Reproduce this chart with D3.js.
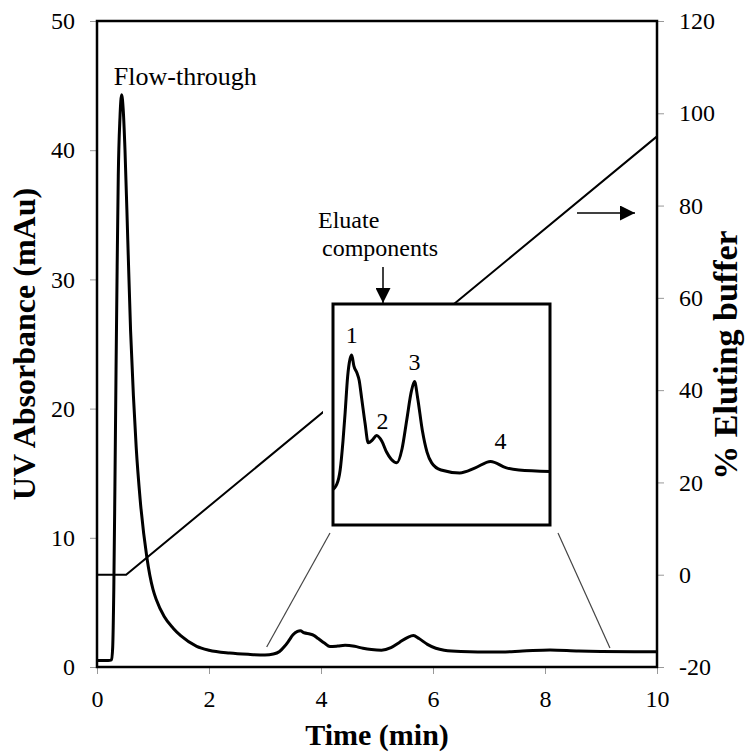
<!DOCTYPE html>
<html>

<head>
    <meta charset="utf-8">
    <title>chromatogram</title>
    <script src="https://d3js.org/d3.v7.min.js"></script>
    <style>
        body { margin: 0; background: #fff; }
        text { font-family: "Liberation Serif", "Times New Roman", serif; fill: #000; }
    </style>
</head>

<body>
    <svg width="745" height="755" id="mainsvg"></svg>
    <script>
        // UV trace (min, mAu)
        const time = [0, 0.1, 0.2, 0.26, 0.28, 0.3, 0.32, 0.34, 0.36, 0.38, 0.41, 0.44, 0.47, 0.5, 0.55, 0.6, 0.65, 0.7, 0.77, 0.89, 1.0, 1.06,
            1.2, 1.36, 1.5, 1.78, 2.0, 2.37, 2.7, 3.0, 3.15, 3.26, 3.35, 3.42, 3.5, 3.58, 3.63, 3.7, 3.8, 3.87, 3.95, 4.06, 4.16, 4.3, 4.43,
            4.6, 4.75, 4.9, 5.08, 5.25, 5.4, 5.55, 5.65, 5.75, 5.9, 6.05, 6.2, 6.5, 7.1, 7.6, 8.09, 8.6, 9.0, 10];
        const absorbance = [0.5, 0.5, 0.5, 0.55, 1.5, 6, 14, 23, 31, 38, 42.5, 44.3, 43, 40, 33, 26, 21, 17, 13, 8.5, 6, 5.2,
            3.9, 3.0, 2.4, 1.6, 1.3, 1.08, 0.98, 0.93, 1.0, 1.2, 1.6, 2.0, 2.5, 2.75, 2.8, 2.65, 2.55, 2.45, 2.2, 1.85, 1.58, 1.62, 1.68,
            1.6, 1.45, 1.35, 1.3, 1.5, 1.9, 2.3, 2.43, 2.2, 1.75, 1.45, 1.3, 1.2, 1.16, 1.23, 1.32, 1.23, 1.2, 1.18];
        // gradient (min, % eluting buffer)
        const gradTime = [0, 0.52, 10];
        const gradPct = [0, 0, 95];
        // ticks
        const xTicks = [0, 2, 4, 6, 8, 10];
        const yTicks = [0, 10, 20, 30, 40, 50];
        const y2Ticks = [-20, 0, 20, 40, 60, 80, 100, 120];
        const peakLabels = [{ t: 3.63, v: 2.8, name: '1' }, { t: 4.43, v: 1.68, name: '2' }, { t: 5.65, v: 2.43, name: '3' }, { t: 8.09, v: 1.32, name: '4' }];

        const svg = d3.select('#mainsvg');
        const margin = { top: 21, right: 88, bottom: 88, left: 97 };
        const width = 745 - margin.left - margin.right;
        const height = 755 - margin.top - margin.bottom;
        const g = svg.append('g').attr('transform', `translate(${margin.left},${margin.top})`);

        const x = d3.scaleLinear().domain([0, 10]).range([0, width]);
        const y = d3.scaleLinear().domain([0, 50]).range([height, 0]);
        const y2 = d3.scaleLinear().domain([-20, 120]).range([height, 0]);

        const trace = time.map((t, i) => ({ t: t, v: absorbance[i] }));
        const grad = gradTime.map((t, i) => ({ t: t, p: gradPct[i] }));

        // axes
        const styleAxis = sel => {
            sel.select('.domain').remove();
            sel.selectAll('.tick line').attr('stroke', '#999');
            sel.selectAll('.tick text').style('font-size', '24px');
        };
        g.append('g').attr('transform', `translate(0,${height})`)
            .call(d3.axisBottom(x).tickValues(xTicks).tickSize(7).tickPadding(16))
            .call(styleAxis);
        g.append('g')
            .call(d3.axisLeft(y).tickValues(yTicks).tickSize(7).tickPadding(15))
            .call(styleAxis);
        g.append('g').attr('transform', `translate(${width},0)`)
            .call(d3.axisRight(y2).tickValues(y2Ticks).tickSize(7).tickPadding(15).tickFormat(d => String(d)))
            .call(styleAxis);

        // frame
        g.append('rect').attr('width', width).attr('height', height)
            .attr('fill', 'none').attr('stroke', '#000').attr('stroke-width', 2.5);

        const line = d3.line().x(d => x(d.t)).y(d => y(d.v)).curve(d3.curveMonotoneX);
        g.append('path').datum(trace)
            .attr('d', line)
            .attr('fill', 'none').attr('stroke', '#000').attr('stroke-width', 3);

        g.append('path').datum(grad)
            .attr('d', d3.line().x(d => x(d.t)).y(d => y2(d.p)))
            .attr('fill', 'none').attr('stroke', '#000').attr('stroke-width', 2);

        // inset
        const box = { x0: 236, x1: 453, y0: 283, y1: 504 };
        const ix = d3.scaleLinear().domain([3.03, 10]).range([box.x0, box.x1]);
        const iy = d3.scaleLinear().domain([0.435, 3.51]).range([box.y1, box.y0]);

        // connector lines
        g.append('line')
            .attr('x1', x(3.03)).attr('y1', y(1.55)).attr('x2', box.x0 - 3).attr('y2', box.y1 + 8)
            .attr('stroke', '#444').attr('stroke-width', 1.2);
        g.append('line')
            .attr('x1', x(9.16)).attr('y1', y(1.47)).attr('x2', box.x1 + 8).attr('y2', box.y1 + 8)
            .attr('stroke', '#444').attr('stroke-width', 1.2);

        g.append('rect')
            .attr('x', box.x0 - 10).attr('y', box.y0 - 1)
            .attr('width', box.x1 - box.x0 + 12).attr('height', box.y1 - box.y0 + 3)
            .attr('fill', '#fff');
        svg.append('defs').append('clipPath').attr('id', 'insetclip')
            .append('rect').attr('x', box.x0).attr('y', box.y0)
            .attr('width', box.x1 - box.x0).attr('height', box.y1 - box.y0);
        g.append('path').datum(trace.filter(d => d.t >= 2.7))
            .attr('clip-path', 'url(#insetclip)')
            .attr('d', d3.line().x(d => ix(d.t)).y(d => iy(d.v)).curve(d3.curveMonotoneX))
            .attr('fill', 'none').attr('stroke', '#000').attr('stroke-width', 3);
        g.append('rect')
            .attr('x', box.x0).attr('y', box.y0)
            .attr('width', box.x1 - box.x0).attr('height', box.y1 - box.y0)
            .attr('fill', 'none').attr('stroke', '#000').attr('stroke-width', 3);

        g.selectAll('.peaklabel').data(peakLabels)
            .enter().append('text')
            .attr('class', 'peaklabel')
            .attr('x', d => ix(d.t) + (d.name == '4' ? 10 : (d.name == '2' ? 6 : 0)))
            .attr('y', d => iy(d.v) - (d.name == '2' ? 7 : 12))
            .attr('text-anchor', 'middle')
            .style('font-size', '24px')
            .text(d => d.name);

        // annotations
        const defs = svg.select('defs');
        defs.append('marker').attr('id', 'head')
            .attr('viewBox', '0 0 10 10').attr('refX', 10).attr('refY', 5)
            .attr('markerWidth', 15).attr('markerHeight', 15).attr('markerUnits', 'userSpaceOnUse')
            .attr('orient', 'auto')
            .append('path').attr('d', 'M0,0L10,5L0,10Z').attr('fill', '#000');

        g.append('text').attr('x', x(0.3)).attr('y', 64)
            .style('font-size', '26px').text('Flow-through');
        g.append('text').attr('x', 221).attr('y', 207)
            .style('font-size', '24px').text('Eluate');
        g.append('text').attr('x', 225).attr('y', 235)
            .style('font-size', '24px').text('components');
        g.append('line')
            .attr('x1', 286).attr('y1', 246).attr('x2', 286).attr('y2', 282)
            .attr('stroke', '#000').attr('stroke-width', 1.5).attr('marker-end', 'url(#head)');
        g.append('line')
            .attr('x1', 480).attr('y1', 192).attr('x2', 538).attr('y2', 192)
            .attr('stroke', '#000').attr('stroke-width', 1.5).attr('marker-end', 'url(#head)');

        // axis titles
        svg.append('text')
            .attr('transform', `translate(${margin.left + width / 2},745)`)
            .attr('text-anchor', 'middle')
            .style('font-size', '30px').style('font-weight', 'bold')
            .text('Time (min)');
        svg.append('text')
            .attr('transform', `translate(35,${margin.top + height / 2}) rotate(-90)`)
            .attr('text-anchor', 'middle')
            .style('font-size', '32px').style('font-weight', 'bold')
            .text('UV Absorbance (mAu)');
        svg.append('text')
            .attr('transform', `translate(737,355) rotate(-90)`)
            .attr('text-anchor', 'middle')
            .style('font-size', '34px').style('font-weight', 'bold')
            .text('% Eluting buffer');
    </script>
</body>

</html>
